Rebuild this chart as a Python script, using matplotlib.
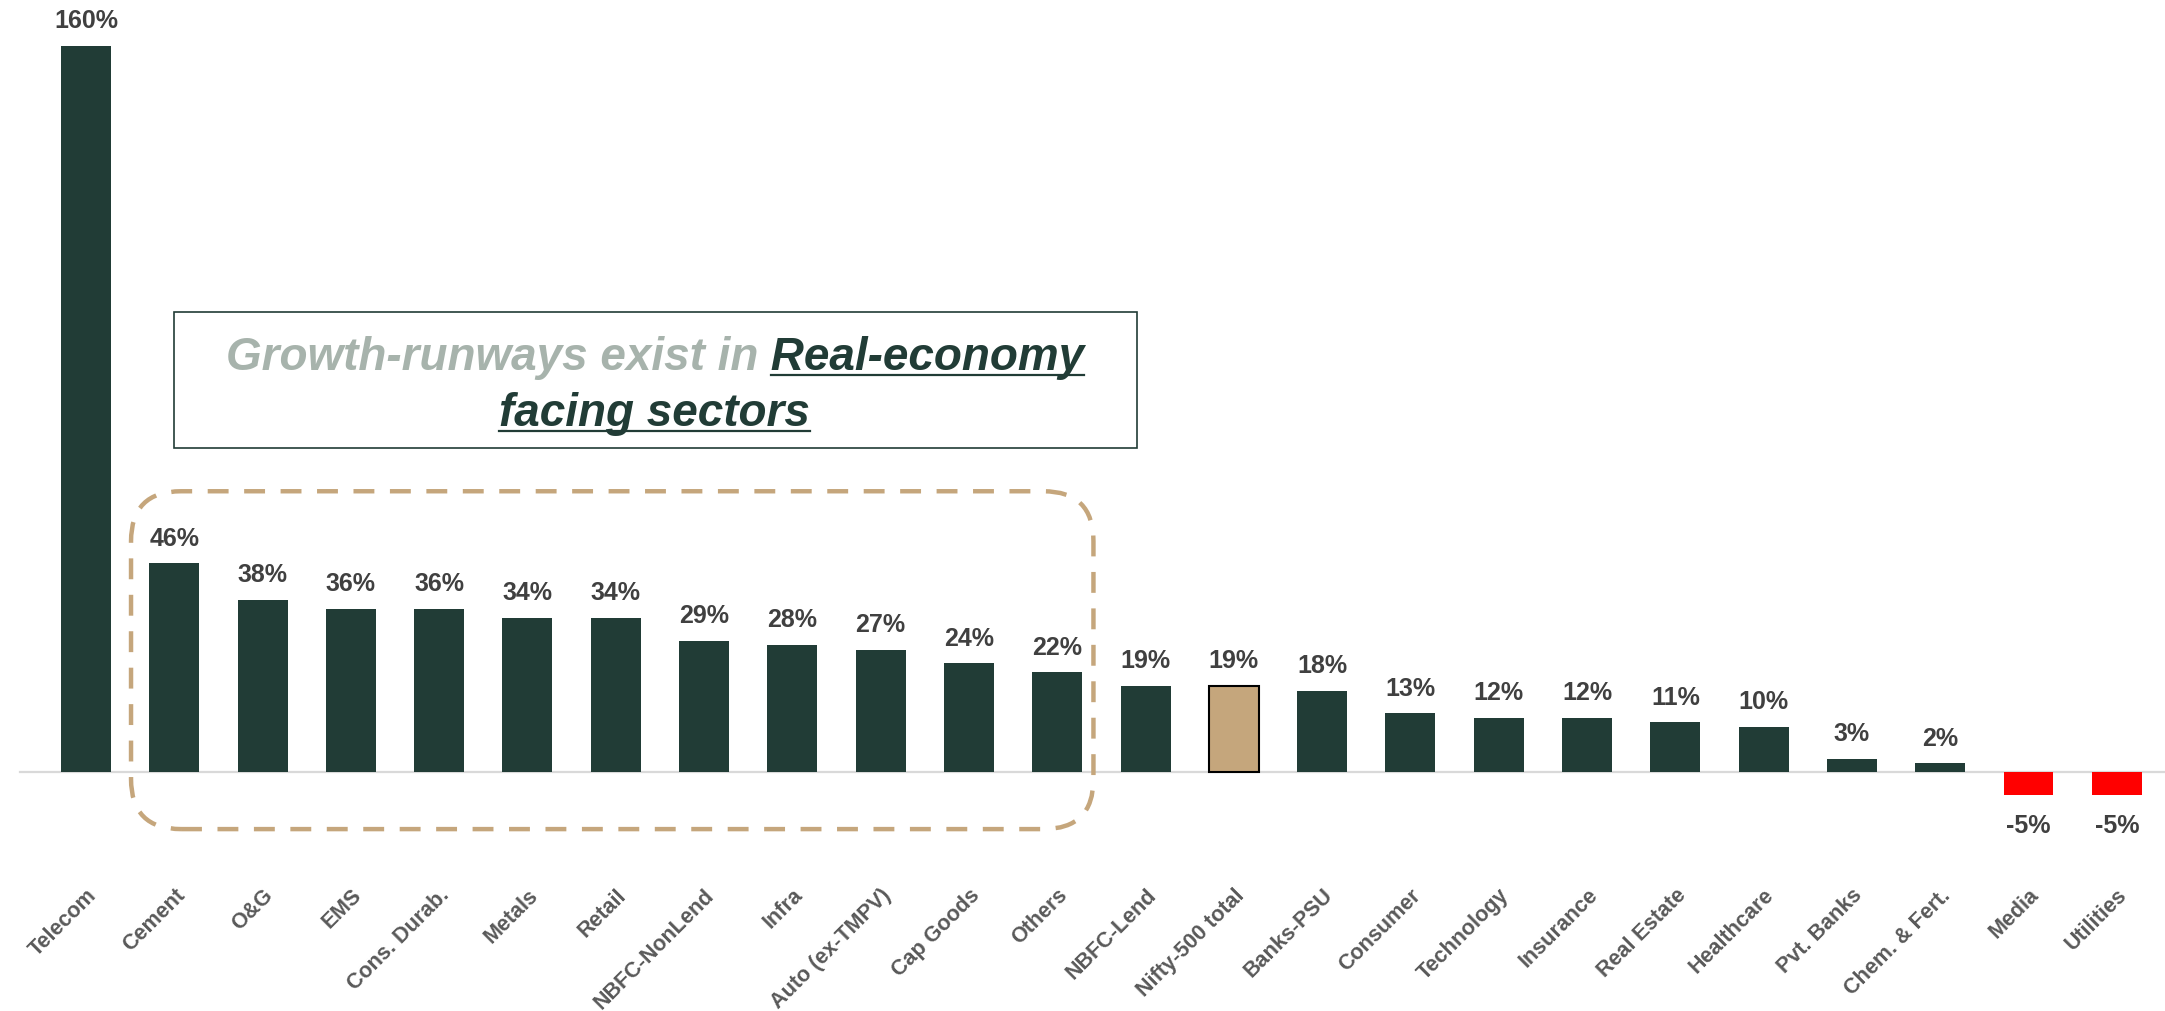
import numpy as np
import matplotlib.pyplot as plt
from matplotlib.patches import FancyBboxPatch, Rectangle
from matplotlib.lines import Line2D

sectors = ['Telecom', 'Cement', 'O&G', 'EMS', 'Cons. Durab.', 'Metals', 'Retail',
           'NBFC-NonLend', 'Infra', 'Auto (ex-TMPV)', 'Cap Goods', 'Others',
           'NBFC-Lend', 'Nifty-500 total', 'Banks-PSU', 'Consumer', 'Technology',
           'Insurance', 'Real Estate', 'Healthcare', 'Pvt. Banks', 'Chem. & Fert.',
           'Media', 'Utilities']
growth = [160, 46, 38, 36, 36, 34, 34, 29, 28, 27, 24, 22,
          19, 19, 18, 13, 12, 12, 11, 10, 3, 2, -5, -5]
benchmark = 'Nifty-500 total'
# sectors inside the dashed "real economy" group
group_first, group_last = 'Cement', 'Others'

dark_green = '#213C36'
tan = '#C5A67C'
neg_red = '#FF0000'
value_grey = '#404040'
tick_grey = '#595959'
soft_green = '#A7B3AC'

plt.rcParams['font.family'] = ['Liberation Sans', 'DejaVu Sans']

fig = plt.figure(figsize=(21.65, 10.12), dpi=100)
ax = fig.add_axes([0, 0.2134, 1, 0.7866])

x = np.arange(len(sectors))
colors, edges, lws = [], [], []
for s, v in zip(sectors, growth):
    if s == benchmark:
        colors.append(tan); edges.append('black'); lws.append(1.5)
    elif v < 0:
        colors.append(neg_red); edges.append(neg_red); lws.append(0)
    else:
        colors.append(dark_green); edges.append(dark_green); lws.append(0)

ax.bar(x, growth, width=0.566, color=colors, edgecolor=edges, linewidth=lws, zorder=2)
ax.set_xlim(-0.974, 23.546)
ax.set_ylim(-5, 170.3)
ax.axhline(0, xmin=20 / 2165, xmax=1, color='#D9D9D9', lw=1.6, zorder=1)

for xi, v in zip(x, growth):
    if v >= 0:
        ax.annotate(f'{v}%', (xi, v), xytext=(0, 13.5), textcoords='offset points',
                    ha='center', va='baseline', fontsize=18, fontweight='bold',
                    color=value_grey, annotation_clip=False)
    else:
        ax.annotate(f'{v}%', (xi, v), xytext=(0, -13), textcoords='offset points',
                    ha='center', va='top', fontsize=18, fontweight='bold',
                    color=value_grey, annotation_clip=False)

ax.set_xticks(x, sectors)
for lab in ax.get_xticklabels():
    lab.set_rotation(45)
    lab.set_ha('right')
    lab.set_rotation_mode('anchor')
    lab.set_fontsize(15.5)
    lab.set_fontweight('bold')
    lab.set_color(tick_grey)
ax.tick_params(axis='x', length=0, pad=64)
ax.set_yticks([])
for sp in ax.spines.values():
    sp.set_visible(False)

# dashed rounded outline around the group, built in inches so corners stay round
i0, i1 = sectors.index(group_first), sectors.index(group_last)
to_in = ax.transData + fig.dpi_scale_trans.inverted()
(bx0, by0) = to_in.transform((i0 - 0.49, -12.5))
(bx1, by1) = to_in.transform((i1 + 0.41, 61.9))
group_box = FancyBboxPatch((bx0, by0), bx1 - bx0, by1 - by0,
                           boxstyle='round,pad=0,rounding_size=0.5',
                           transform=fig.dpi_scale_trans, fill=False,
                           ec=tan, lw=3.2, linestyle=(0, (4.7, 3.5)),
                           clip_on=False, zorder=3)
ax.add_patch(group_box)

# callout box
fig.patches.append(Rectangle((0.0804, 0.5563), 0.4448, 0.1344,
                             transform=fig.transFigure, fill=False,
                             ec=dark_green, lw=1.2))

cx = 0.3025
title_kw = dict(fontsize=33, fontweight='bold', fontstyle='italic')
fig.canvas.draw()
r = fig.canvas.get_renderer()

t1 = fig.text(0, 0.6344, 'Growth-runways exist in', color=soft_green,
              va='baseline', ha='left', **title_kw)
t2 = fig.text(0, 0.6344, ' Real-economy', color=dark_green,
              va='baseline', ha='left', **title_kw)
w1 = t1.get_window_extent(r).width
w2 = t2.get_window_extent(r).width
W = fig.bbox.width
start = cx - (w1 + w2) / 2 / W
t1.set_x(start)
t2.set_x(start + w1 / W)
t3 = fig.text(cx, 0.5791, 'facing sectors', color=dark_green,
              va='baseline', ha='center', **title_kw)

probe = fig.text(0, 0, 'Real-economy', alpha=0, **title_kw)
w_word = probe.get_window_extent(r).width
probe.remove()

H = fig.bbox.height
ul_off = 6 / H
xa = start + (w1 + w2 - w_word) / W
fig.lines.append(Line2D([xa, start + (w1 + w2) / W], [0.6344 - ul_off] * 2,
                        transform=fig.transFigure, color=dark_green, lw=1.6))
w3 = t3.get_window_extent(r).width
fig.lines.append(Line2D([cx - w3 / 2 / W, cx + w3 / 2 / W], [0.5791 - ul_off] * 2,
                        transform=fig.transFigure, color=dark_green, lw=1.6))

fig.savefig('out.png', dpi=100)
